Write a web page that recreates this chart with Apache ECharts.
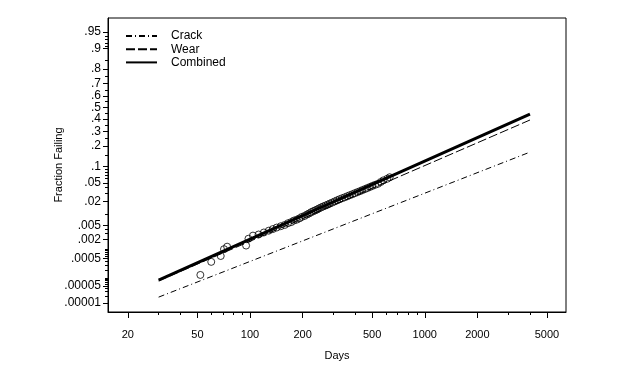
<!DOCTYPE html>
<html><head><meta charset="utf-8">
<script src="https://cdn.jsdelivr.net/npm/echarts@6/dist/echarts.min.js"></script>
<style>html,body{margin:0;padding:0;background:#fff}#c{width:632px;height:372px}</style>
</head><body><div id="c"></div>
<script>
// ---- data ----
const xMajorTicks = [20, 50, 100, 200, 500, 1000, 2000, 5000];
const xMinorTicks = [30, 40, 60, 70, 80, 90, 300, 400, 600, 700, 800, 900, 3000, 4000];
const yMajorTicks = [0.95, 0.9, 0.8, 0.7, 0.6, 0.5, 0.4, 0.3, 0.2, 0.1, 0.05, 0.02, 0.005, 0.002, 0.0005, 0.00005, 0.00001];
const yMajorLabels = ['.95', '.9', '.8', '.7', '.6', '.5', '.4', '.3', '.2', '.1', '.05', '.02', '.005', '.002', '.0005', '.00005', '.00001'];
const yMinorTicks = [0.94, 0.93, 0.92, 0.91, 0.85, 0.75, 0.65, 0.55, 0.45, 0.35, 0.25, 0.15,
  0.09, 0.08, 0.07, 0.06, 0.04, 0.03, 0.01, 0.004, 0.003, 0.001, 0.0009, 0.0008, 0.0007, 0.0006,
  0.0004, 0.0003, 0.0002, 0.0001, 0.00009, 0.00008, 0.00007, 0.00006, 0.00004, 0.00003, 0.00002];
const xRange = [15.4, 6430];          // days at left/right edge of plot box
const yRange = [0.0000041, 0.9744];   // fraction at bottom/top edge of plot box

const seriesNames = ['Crack', 'Wear', 'Combined'];
const crackDays = [30, 4000];
const crackFrac = [0.0000177, 0.165];
const wearDays = [30, 4000];
const wearFrac = [0.000078, 0.392];
const combinedDays = [30, 300, 4000];
const combinedFrac = [0.000084, 0.0197, 0.443];

const obsDays = [52, 60, 68, 71, 74, 95, 98, 104, 112, 120, 128, 135, 142, 150, 158, 165, 172, 178, 185, 192,
  198, 205, 212, 218, 224, 230, 236, 242, 248, 255, 262, 270, 278, 286, 295, 305, 315, 325, 336, 348,
  360, 372, 385, 398, 412, 426, 440, 455, 470, 486, 502, 520, 540, 560, 580, 610, 630];
const obsFrac = [0.00013, 0.00038, 0.0006, 0.001, 0.0012, 0.0013, 0.0021, 0.0026, 0.0028, 0.0032, 0.0036, 0.0040, 0.0044, 0.0048, 0.0052, 0.0058, 0.0062, 0.0068, 0.0072, 0.0078,
  0.0085, 0.0090, 0.0098, 0.0104, 0.0112, 0.0118, 0.0124, 0.013, 0.0138, 0.0146, 0.0154, 0.0162, 0.017, 0.018, 0.019, 0.0202, 0.0214, 0.0226, 0.0238, 0.025,
  0.0264, 0.0278, 0.0292, 0.0308, 0.0324, 0.034, 0.0358, 0.0376, 0.0395, 0.0415, 0.0436, 0.0458, 0.048, 0.052, 0.056, 0.060, 0.064];

// ---- probability-paper transforms (lognormal paper) ----
function probit(p) {
  const a = [-3.969683028665376e+01, 2.209460984245205e+02, -2.759285104469687e+02, 1.383577518672690e+02, -3.066479806614716e+01, 2.506628277459239e+00];
  const b = [-5.447609879822406e+01, 1.615858368580409e+02, -1.556989798598866e+02, 6.680131188771972e+01, -1.328068155288572e+01];
  const c = [-7.784894002430293e-03, -3.223964580411365e-01, -2.400758277161838e+00, -2.549732539343734e+00, 4.374664141464968e+00, 2.938163982698783e+00];
  const d = [7.784695709041462e-03, 3.224671290700398e-01, 2.445134137142996e+00, 3.754408661907416e+00];
  const pl = 0.02425;
  let q, r;
  if (p < pl) { q = Math.sqrt(-2 * Math.log(p)); return (((((c[0]*q+c[1])*q+c[2])*q+c[3])*q+c[4])*q+c[5]) / ((((d[0]*q+d[1])*q+d[2])*q+d[3])*q+1); }
  if (p > 1 - pl) { q = Math.sqrt(-2 * Math.log(1 - p)); return -(((((c[0]*q+c[1])*q+c[2])*q+c[3])*q+c[4])*q+c[5]) / ((((d[0]*q+d[1])*q+d[2])*q+d[3])*q+1); }
  q = p - 0.5; r = q * q;
  return (((((a[0]*r+a[1])*r+a[2])*r+a[3])*r+a[4])*r+a[5])*q / (((((b[0]*r+b[1])*r+b[2])*r+b[3])*r+b[4])*r+1);
}
const lx = Math.log10;
const pts = (xs, ys) => xs.map((x, i) => [lx(x), probit(ys[i])]);

const yLabelMap = {};
yMajorTicks.forEach((p, i) => { yLabelMap[probit(p).toFixed(6)] = yMajorLabels[i]; });
const xLabelMap = {};
xMajorTicks.forEach(v => { xLabelMap[lx(v).toFixed(6)] = String(v); });

const FONT = 'Liberation Sans, Arial, sans-serif';
const black = '#000';
const xMin = lx(xRange[0]), xMax = lx(xRange[1]);
const yMin = probit(yRange[0]), yMax = probit(yRange[1]);

const chart = echarts.init(document.getElementById('c'), null, { renderer: 'canvas' });
chart.setOption({
  animation: false,
  backgroundColor: '#fff',
  grid: { left: 108, right: 66, top: 18, bottom: 60, show: true, borderColor: black, borderWidth: 1, backgroundColor: 'transparent' },
  legend: {
    orient: 'vertical', left: 120, top: 25, itemWidth: 31, itemHeight: 10, itemGap: 1.2,
    data: seriesNames, itemStyle: { opacity: 0 },
    textStyle: { fontFamily: FONT, fontSize: 12, lineHeight: 11, color: black, padding: [0, 0, 0, 9] },
    selectedMode: false
  },
  xAxis: [{
    type: 'value', min: xMin, max: xMax, name: 'Days', nameLocation: 'middle', nameGap: 38,
    nameTextStyle: { fontFamily: FONT, fontSize: 11, color: black },
    axisLine: { show: true, onZero: false, lineStyle: { color: black, width: 1 } },
    splitLine: { show: false },
    axisTick: { show: true, length: 6, customValues: xMajorTicks.map(lx), lineStyle: { color: black, width: 1 } },
    axisLabel: { show: true, customValues: xMajorTicks.map(lx), margin: 17, fontFamily: FONT, fontSize: 11, color: black,
      formatter: v => xLabelMap[v.toFixed(6)] || '' }
  }, {
    type: 'value', min: xMin, max: xMax, position: 'bottom',
    axisLine: { show: false, onZero: false }, splitLine: { show: false }, axisLabel: { show: false },
    axisTick: { show: true, length: 3, customValues: xMinorTicks.map(lx), lineStyle: { color: black, width: 1 } }
  }],
  yAxis: [{
    type: 'value', min: yMin, max: yMax, name: 'Fraction Failing', nameLocation: 'middle', nameGap: 44, nameMoveOverlap: false,
    nameTextStyle: { fontFamily: FONT, fontSize: 11, color: black },
    axisLine: { show: true, onZero: false, lineStyle: { color: black, width: 1 } },
    splitLine: { show: false },
    axisTick: { show: true, length: 5, customValues: yMajorTicks.map(probit), lineStyle: { color: black, width: 1 } },
    axisLabel: { show: true, customValues: yMajorTicks.map(probit), margin: 7, fontFamily: FONT, fontSize: 12, color: black,
      formatter: v => yLabelMap[v.toFixed(6)] || '' }
  }, {
    type: 'value', min: yMin, max: yMax, position: 'left',
    axisLine: { show: false, onZero: false }, splitLine: { show: false }, axisLabel: { show: false },
    axisTick: { show: true, length: 3, customValues: yMinorTicks.map(probit), lineStyle: { color: black, width: 1 } }
  }],
  series: [
    { name: 'Crack', type: 'line', symbol: 'none', data: pts(crackDays, crackFrac), z: 3,
      lineStyle: { color: black, width: 1, type: [6, 3, 1, 3] }, itemStyle: { color: black } },
    { name: 'Wear', type: 'line', symbol: 'none', data: pts(wearDays, wearFrac), z: 3,
      lineStyle: { color: black, width: 1, type: [9, 3] }, itemStyle: { color: black } },
    { name: 'Combined', type: 'line', symbol: 'none', smooth: false, data: pts(combinedDays, combinedFrac), z: 4,
      lineStyle: { color: black, width: 3 }, itemStyle: { color: black } },
    { name: 'Observed', type: 'scatter', symbol: 'circle', symbolSize: 7, data: pts(obsDays, obsFrac), z: 5,
      itemStyle: { color: 'rgba(0,0,0,0)', borderColor: black, borderWidth: 1 } }
  ]
});
</script></body></html>
